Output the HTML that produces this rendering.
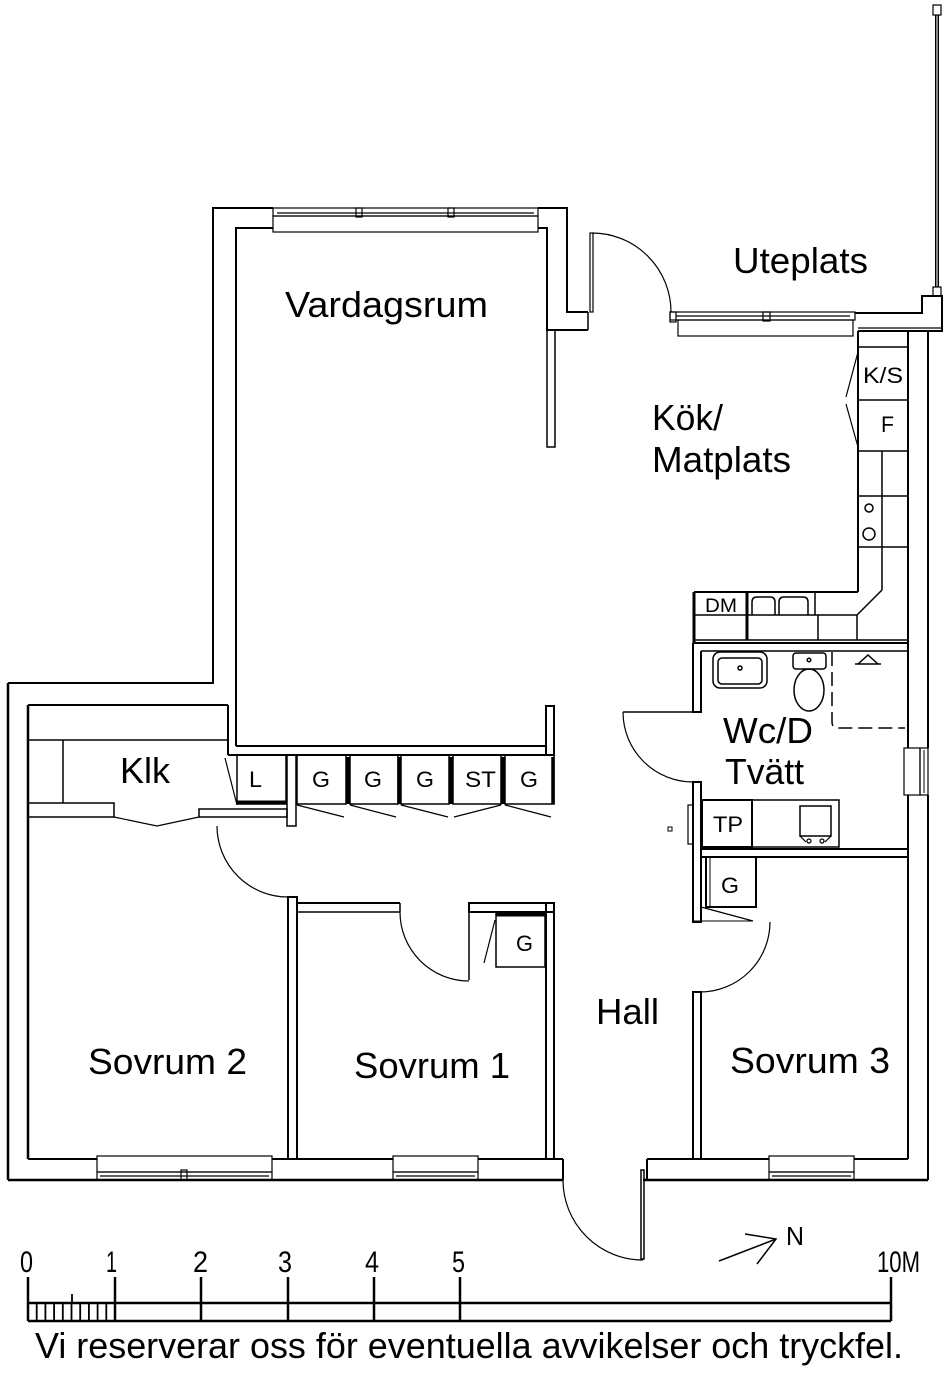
<!DOCTYPE html>
<html><head><meta charset="utf-8"><style>
html,body{margin:0;padding:0;background:#fff;}
svg{display:block;}
text{font-family:"Liberation Sans",Arial,sans-serif;fill:#000;}
</style></head><body>
<svg width="950" height="1373" viewBox="0 0 950 1373" xmlns="http://www.w3.org/2000/svg">
<rect width="950" height="1373" fill="#fff"/>
<g fill="none" stroke="#000" stroke-width="2">
<!-- Vardagsrum outer -->
<polyline points="8,683 213,683 213,208 273,208"/>
<polyline points="538,208 567,208 567,312 588,312"/>
<polyline points="236,746 236,228 273,228"/>
<polyline points="538,228 547,228 547,330 588,330"/>
<line x1="588" y1="312" x2="588" y2="330" stroke-width="1.5"/>
<!-- top window -->
<g stroke-width="1.2">
<rect x="273" y="208" width="265" height="8"/>
<line x1="277" y1="213" x2="534" y2="213"/>
<rect x="273" y="216" width="265" height="16"/>
<rect x="356" y="208" width="6" height="9"/>
<rect x="448" y="208" width="6" height="9"/>
</g>
<!-- partition -->
<rect x="547" y="330" width="8" height="117" stroke-width="1.5"/>
<!-- Uteplats door -->
<rect x="590" y="233" width="3" height="79" stroke-width="1.2"/>
<path d="M592,233 A79,79 0 0 1 671,312" stroke-width="1.2"/>
<!-- kitchen window -->
<g stroke-width="1.2">
<rect x="670" y="312" width="185" height="8"/>
<line x1="676" y1="316" x2="850" y2="316"/>
<rect x="763" y="312" width="7" height="9"/>
<rect x="678" y="320" width="175" height="16"/>
<rect x="670" y="312" width="6" height="10"/>
</g>
<!-- top right wall block -->
<polyline points="855,313 922,313 922,296 942,296 942,331 858,331"/>
<line x1="858" y1="328" x2="942" y2="328" stroke-width="1.2"/>
<!-- pole -->
<rect x="935.5" y="15" width="3" height="272" fill="#888" stroke-width="1"/>
<rect x="933" y="5" width="8" height="10" stroke-width="1.2"/>
<rect x="933" y="287" width="8" height="9" stroke-width="1.2"/>
<!-- right wall -->
<line x1="908" y1="331" x2="908" y2="748"/>
<line x1="928" y1="331" x2="928" y2="748"/>
<line x1="908" y1="795" x2="908" y2="1159"/>
<line x1="928" y1="795" x2="928" y2="1180"/>
<rect x="904" y="748" width="16" height="47" stroke-width="1.2"/>
<rect x="920" y="748" width="8" height="47" stroke-width="1.2"/>
<line x1="924" y1="750" x2="924" y2="793" stroke-width="1"/>
<!-- kitchen column -->
<line x1="858" y1="331" x2="858" y2="592"/>
<g stroke-width="1.5">
<line x1="858" y1="347" x2="908" y2="347"/>
<line x1="858" y1="400" x2="908" y2="400"/>
<line x1="858" y1="451" x2="908" y2="451"/>
<line x1="858" y1="496" x2="908" y2="496"/>
<line x1="858" y1="547" x2="908" y2="547"/>
<line x1="882" y1="451" x2="882" y2="590"/>
<line x1="882" y1="590" x2="857" y2="615"/>
<circle cx="869" cy="508" r="4"/>
<circle cx="869" cy="534" r="6"/>
</g>
<g stroke-width="1.2">
<line x1="858" y1="352" x2="846" y2="397"/>
<line x1="846" y1="404" x2="858" y2="447"/>
</g>
<!-- lower counter -->
<line x1="694" y1="592" x2="858" y2="592"/>
<line x1="694" y1="615" x2="857" y2="615" stroke-width="1.5"/>
<line x1="694" y1="640" x2="908" y2="640" stroke-width="1.5"/>
<line x1="694" y1="592" x2="694" y2="643" stroke-width="3"/>
<line x1="747" y1="592" x2="747" y2="640" stroke-width="3"/>
<line x1="815" y1="592" x2="815" y2="615" stroke-width="1.5"/>
<line x1="818" y1="615" x2="818" y2="640" stroke-width="1.5"/>
<line x1="857" y1="615" x2="857" y2="640" stroke-width="1.5"/>
<g stroke-width="1.5">
<path d="M752,615 L752,602 Q752,597 757,597 L770,597 Q775,597 775,602 L775,615"/>
<path d="M779,615 L779,602 Q779,597 784,597 L803,597 Q808,597 808,602 L808,615"/>
</g>
<!-- WC walls -->
<line x1="693" y1="643" x2="908" y2="643"/>
<line x1="701" y1="651" x2="908" y2="651" stroke-width="1.5"/>
<polyline points="693,643 693,712 701,712 701,651"/>
<line x1="623" y1="712" x2="693" y2="712" stroke-width="1.5"/>
<path d="M623,712 A70,70 0 0 0 693,782" stroke-width="1.2"/>
<rect x="693" y="782" width="8" height="140"/>
<rect x="688" y="805" width="5" height="39" stroke-width="1.2"/>
<rect x="668" y="827" width="4" height="4" stroke-width="1"/>
<rect x="702" y="800" width="50" height="47"/>
<rect x="752" y="800" width="87" height="47" stroke-width="1.5"/>
<rect x="800" y="806" width="31" height="30" stroke-width="1.5"/>
<g stroke-width="1.2">
<circle cx="809" cy="841" r="2"/><circle cx="822" cy="841" r="2"/>
<line x1="800" y1="836" x2="806" y2="842"/><line x1="831" y1="836" x2="825" y2="842"/>
</g>
<line x1="701" y1="849" x2="908" y2="849"/>
<line x1="701" y1="857" x2="908" y2="857"/>
<rect x="706" y="857" width="50" height="50"/>
<line x1="710" y1="857" x2="710" y2="907" stroke-width="1"/>
<line x1="701" y1="907" x2="753" y2="921" stroke-width="1.2"/>
<line x1="693" y1="921" x2="753" y2="921" stroke-width="1"/>
<path d="M770,922 A70,70 0 0 1 700,992" stroke-width="1.2"/>
<rect x="693" y="992" width="8" height="167"/>
<!-- shower, basin, toilet -->
<path d="M832,652 L832,722 Q832,728 838,728 L905,728" stroke-width="1.5" stroke-dasharray="14,6"/>
<g stroke-width="1.5">
<polyline points="858,664 868,655 878,664"/>
<line x1="855" y1="664" x2="881" y2="664"/>
<rect x="713" y="652" width="54" height="36" rx="7"/>
<rect x="718" y="658" width="44" height="26" rx="4"/>
<circle cx="740" cy="668" r="2"/>
<rect x="793" y="653" width="33" height="16" rx="3"/>
<circle cx="809" cy="660" r="1.8"/>
<ellipse cx="809" cy="690" rx="15" ry="21"/>
</g>
<!-- Vardagsrum bottom wall -->
<line x1="236" y1="746" x2="546" y2="746"/>
<line x1="228" y1="755" x2="554" y2="755"/>
<rect x="546" y="706" width="8" height="49"/>
<!-- Klk area -->
<line x1="28" y1="705" x2="228" y2="705"/>
<line x1="228" y1="705" x2="228" y2="755"/>
<line x1="28" y1="705" x2="28" y2="1159" stroke-width="2.5"/>
<line x1="8" y1="683" x2="8" y2="1180" stroke-width="2.5"/>
<line x1="28" y1="740" x2="228" y2="740" stroke-width="1.5"/>
<line x1="63" y1="740" x2="63" y2="803" stroke-width="1.5"/>
<rect x="28" y="803" width="86" height="14" stroke-width="1.5"/>
<rect x="199" y="809" width="88" height="8" stroke-width="1.5"/>
<polyline points="114,817 157,826 199,817" stroke-width="1.2"/>
<rect x="237" y="755" width="49" height="49" stroke-width="1.5"/>
<line x1="237" y1="802" x2="286" y2="802" stroke-width="3"/>
<line x1="225" y1="758" x2="237" y2="805" stroke-width="1.2"/>
<rect x="287" y="755" width="9" height="71" stroke-width="1.5"/>
<!-- closets -->
<g stroke-width="1.5">
<rect x="297" y="755" width="49" height="49"/>
<rect x="350" y="755" width="48" height="49"/>
<rect x="401" y="755" width="48" height="49"/>
<rect x="453" y="755" width="48" height="49"/>
<rect x="505" y="755" width="49" height="49"/>
</g>
<g stroke-width="3.5">
<line x1="348" y1="757" x2="348" y2="804"/>
<line x1="399" y1="757" x2="399" y2="804"/>
<line x1="451" y1="757" x2="451" y2="804"/>
<line x1="503" y1="757" x2="503" y2="804"/>
<line x1="553" y1="757" x2="553" y2="804"/>
</g>
<g stroke-width="1.2">
<line x1="297" y1="805" x2="344" y2="817"/>
<line x1="350" y1="805" x2="396" y2="817"/>
<line x1="401" y1="805" x2="448" y2="817"/>
<line x1="501" y1="805" x2="454" y2="817"/>
<line x1="505" y1="805" x2="551" y2="817"/>
</g>
<!-- Sovrum 2 door -->
<path d="M217,826 A71,71 0 0 0 288,897" stroke-width="1.2"/>
<rect x="288" y="897" width="9" height="262"/>
<!-- Sovrum 1 -->
<line x1="297" y1="903" x2="400" y2="903"/>
<line x1="297" y1="912" x2="400" y2="912" stroke-width="1.5"/>
<line x1="400" y1="903" x2="400" y2="912" stroke-width="1.5"/>
<rect x="469" y="903" width="85" height="9"/>
<rect x="546" y="903" width="8" height="256"/>
<line x1="469" y1="903" x2="469" y2="980" stroke-width="1.5"/>
<path d="M400,912 A69,69 0 0 0 469,981" stroke-width="1.2"/>
<rect x="496" y="913" width="49" height="54" stroke-width="1.5"/>
<line x1="496" y1="915" x2="545" y2="915" stroke-width="3"/>
<line x1="495" y1="920" x2="484" y2="963" stroke-width="1.2"/>
<!-- bottom wall -->
<line x1="8" y1="1180" x2="563" y2="1180" stroke-width="2.5"/>
<line x1="28" y1="1159" x2="97" y2="1159"/>
<line x1="272" y1="1159" x2="393" y2="1159"/>
<line x1="478" y1="1159" x2="563" y2="1159"/>
<line x1="563" y1="1159" x2="563" y2="1180"/>
<g stroke-width="1.2">
<rect x="97" y="1156" width="175" height="16"/>
<rect x="97" y="1172" width="175" height="8"/>
<line x1="100" y1="1176" x2="269" y2="1176"/>
<rect x="181" y="1170" width="6" height="10"/>
<rect x="393" y="1156" width="85" height="16"/>
<rect x="393" y="1172" width="85" height="8"/>
<line x1="396" y1="1176" x2="475" y2="1176"/>
<rect x="769" y="1156" width="85" height="16"/>
<rect x="769" y="1172" width="85" height="8"/>
<line x1="772" y1="1176" x2="851" y2="1176"/>
</g>
<line x1="643" y1="1180" x2="928" y2="1180" stroke-width="2.5"/>
<line x1="647" y1="1159" x2="769" y2="1159"/>
<line x1="854" y1="1159" x2="908" y2="1159"/>
<line x1="647" y1="1159" x2="647" y2="1180"/>
<rect x="641" y="1170" width="3" height="89" stroke-width="1.5"/>
<path d="M563,1180 A80,80 0 0 0 643,1260" stroke-width="1.2"/>
<!-- north arrow -->
<g stroke-width="1.5">
<line x1="719" y1="1261" x2="776" y2="1239"/>
<polyline points="745,1234 776,1239 757,1264"/>
</g>
<!-- scale bar -->
<g stroke-width="2.5">
<line x1="28" y1="1303" x2="891" y2="1303"/>
<line x1="28" y1="1321" x2="891" y2="1321"/>
<line x1="28" y1="1277" x2="28" y2="1321"/>
<line x1="115" y1="1277" x2="115" y2="1321"/>
<line x1="201" y1="1277" x2="201" y2="1321"/>
<line x1="288" y1="1277" x2="288" y2="1321"/>
<line x1="374" y1="1277" x2="374" y2="1321"/>
<line x1="460" y1="1277" x2="460" y2="1321"/>
<line x1="891" y1="1277" x2="891" y2="1321"/>
</g>
<g stroke-width="1.8">
<line x1="72" y1="1294" x2="72" y2="1303"/>
<line x1="36.7" y1="1303" x2="36.7" y2="1321"/>
<line x1="45.4" y1="1303" x2="45.4" y2="1321"/>
<line x1="54.1" y1="1303" x2="54.1" y2="1321"/>
<line x1="62.8" y1="1303" x2="62.8" y2="1321"/>
<line x1="71.5" y1="1303" x2="71.5" y2="1321"/>
<line x1="80.2" y1="1303" x2="80.2" y2="1321"/>
<line x1="88.9" y1="1303" x2="88.9" y2="1321"/>
<line x1="97.6" y1="1303" x2="97.6" y2="1321"/>
<line x1="106.3" y1="1303" x2="106.3" y2="1321"/>
</g>
</g>
<!-- labels -->
<g font-size="36">
<text x="285" y="317" textLength="203" lengthAdjust="spacingAndGlyphs">Vardagsrum</text>
<text x="733" y="273" textLength="135" lengthAdjust="spacingAndGlyphs">Uteplats</text>
<text x="652" y="430" textLength="71" lengthAdjust="spacingAndGlyphs">Kök/</text>
<text x="652" y="472" textLength="139" lengthAdjust="spacingAndGlyphs">Matplats</text>
<text x="120" y="783" textLength="50" lengthAdjust="spacingAndGlyphs">Klk</text>
<text x="723" y="743" textLength="90" lengthAdjust="spacingAndGlyphs">Wc/D</text>
<text x="725" y="784" textLength="79" lengthAdjust="spacingAndGlyphs">Tvätt</text>
<text x="596" y="1024" textLength="63" lengthAdjust="spacingAndGlyphs">Hall</text>
<text x="88" y="1074" textLength="159" lengthAdjust="spacingAndGlyphs">Sovrum 2</text>
<text x="354" y="1078" textLength="156" lengthAdjust="spacingAndGlyphs">Sovrum 1</text>
<text x="730" y="1073" textLength="160" lengthAdjust="spacingAndGlyphs">Sovrum 3</text>
<text x="35" y="1358" textLength="868" lengthAdjust="spacingAndGlyphs">Vi reserverar oss för eventuella avvikelser och tryckfel.</text>
</g>
<g font-size="22">
<text x="863" y="383" textLength="40" lengthAdjust="spacingAndGlyphs">K/S</text>
<text x="881" y="432" textLength="13" lengthAdjust="spacingAndGlyphs">F</text>
<text x="713" y="832" textLength="30" lengthAdjust="spacingAndGlyphs">TP</text>
<text x="721" y="893" textLength="18" lengthAdjust="spacingAndGlyphs">G</text>
<text x="249" y="787" textLength="13" lengthAdjust="spacingAndGlyphs">L</text>
<text x="312" y="787" textLength="18" lengthAdjust="spacingAndGlyphs">G</text>
<text x="364" y="787" textLength="18" lengthAdjust="spacingAndGlyphs">G</text>
<text x="416" y="787" textLength="18" lengthAdjust="spacingAndGlyphs">G</text>
<text x="465" y="787" textLength="31" lengthAdjust="spacingAndGlyphs">ST</text>
<text x="520" y="787" textLength="18" lengthAdjust="spacingAndGlyphs">G</text>
<text x="516" y="951" textLength="17" lengthAdjust="spacingAndGlyphs">G</text>
</g>
<text x="705" y="612" font-size="19" textLength="32" lengthAdjust="spacingAndGlyphs">DM</text>
<text x="786" y="1245" font-size="26" textLength="18" lengthAdjust="spacingAndGlyphs">N</text>
<g font-size="30">
<text x="20" y="1272" textLength="13" lengthAdjust="spacingAndGlyphs">0</text>
<text x="106" y="1272" textLength="11" lengthAdjust="spacingAndGlyphs">1</text>
<text x="193" y="1272" textLength="15" lengthAdjust="spacingAndGlyphs">2</text>
<text x="278" y="1272" textLength="14" lengthAdjust="spacingAndGlyphs">3</text>
<text x="365" y="1272" textLength="14" lengthAdjust="spacingAndGlyphs">4</text>
<text x="452" y="1272" textLength="13" lengthAdjust="spacingAndGlyphs">5</text>
<text x="877" y="1272" textLength="43" lengthAdjust="spacingAndGlyphs">10M</text>
</g>
</svg>
</body></html>
